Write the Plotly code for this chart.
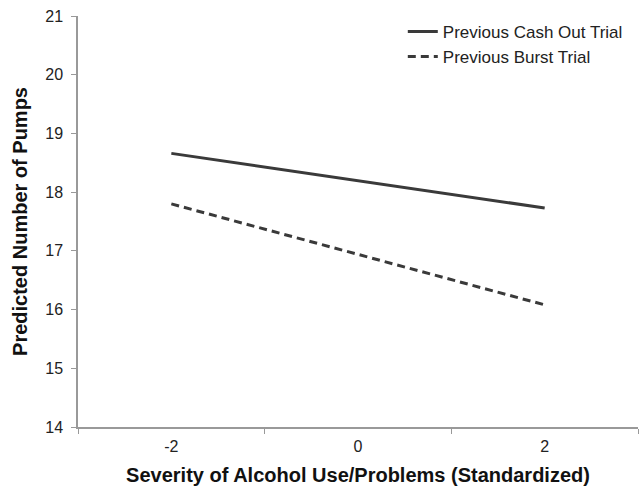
import plotly.graph_objects as go

categories = ["-2", "0", "2"]
cash_out = [18.66, 18.195, 17.73]
burst = [17.80, 16.94, 16.08]
y_ticks = [14, 15, 16, 17, 18, 19, 20, 21]

fig = go.Figure()
fig.add_trace(go.Scatter(x=categories, y=cash_out, mode="lines", name="Previous Cash Out Trial",
                         line=dict(color="#3a3a3a", width=3)))
fig.add_trace(go.Scatter(x=categories, y=burst, mode="lines", name="Previous Burst Trial",
                         line=dict(color="#3a3a3a", width=3, dash="8px,5px")))

fig.update_layout(
    width=639, height=488,
    margin=dict(l=78, r=1, t=16, b=61),
    plot_bgcolor="white", paper_bgcolor="white",
    font=dict(family="Liberation Sans, Arial", size=16, color="#222"),
    showlegend=True,
    legend=dict(x=0.58, y=1.005, xanchor="left", yanchor="top",
                font=dict(size=17, color="#222"), bgcolor="rgba(0,0,0,0)",
                tracegroupgap=2),
    xaxis=dict(type="category", range=[-0.5, 2.5], tickson="boundaries",
               ticks="outside", ticklen=5, tickcolor="#999", showline=True,
               linecolor="#999", linewidth=1.5, showgrid=False, zeroline=False,
               tickfont=dict(size=16), ticklabelstandoff=4,
               title=dict(text="<b>Severity of Alcohol Use/Problems (Standardized)</b>",
                          font=dict(size=20, color="#111"), standoff=14)),
    yaxis=dict(range=[14, 21], tickvals=y_ticks, ticks="outside", ticklen=5,
               tickcolor="#999", showline=True, linecolor="#999", linewidth=1.5,
               showgrid=False, zeroline=False, tickfont=dict(size=16),
               ticklabelstandoff=5,
               title=dict(text="<b>Predicted Number of Pumps</b>",
                          font=dict(size=20, color="#111"), standoff=12)),
)
fig.write_html("out.html")
